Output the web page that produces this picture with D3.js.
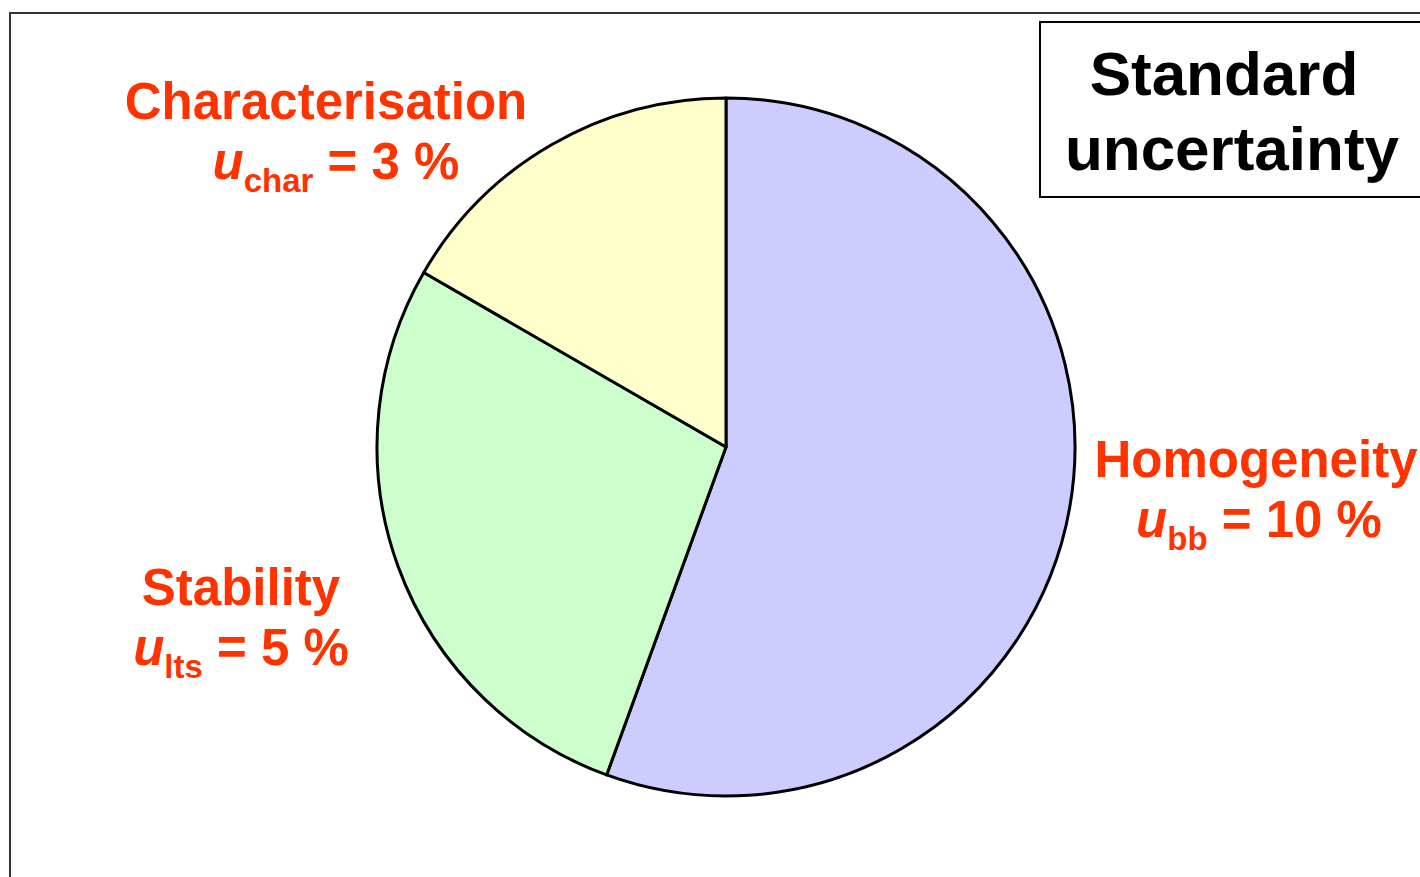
<!DOCTYPE html>
<html>
<head>
<meta charset="utf-8">
<script src="https://cdn.jsdelivr.net/npm/d3@7"></script>
<style>
  html, body { margin: 0; padding: 0; background: #fff; }
  svg { display: block; }
  text { font-family: "Liberation Sans", Arial, sans-serif; font-weight: bold; }
</style>
</head>
<body>
<div id="chart"></div>
<script>

// Uncertainty budget (standard uncertainties, %)
var categories = ["Homogeneity", "Stability", "Characterisation"];
var subscripts = ["bb", "lts", "char"];
var values = [10, 5, 3];
var colours = ["#ccccff", "#ccffcc", "#ffffcc"];

var width = 1420,
	height = 877;

var cx = 726,
	cy = 447,
	radius = 349;

// Where each label block sits (line 1 centre x, line 2 centre x, line 1 baseline)
var labelPos = [
	{ x1: 1256, x2: 1259, y: 477 },
	{ x1: 241, x2: 241, y: 605 },
	{ x1: 326, x2: 336, y: 119 }
];

var labelColour = "#ff3300";

var svg = d3.select("#chart").append("svg")
	.attr("width", width)
	.attr("height", height);

// Outer frame (runs off the right and bottom)
svg.append("rect")
	.attr("x", 10)
	.attr("y", 13)
	.attr("width", width)
	.attr("height", height)
	.attr("fill", "none")
	.attr("stroke", "#333")
	.attr("stroke-width", 2);

// Pie
var pie = d3.pie()
	.sort(null)
	.value(function(d) { return d; });

var arc = d3.arc()
	.innerRadius(0)
	.outerRadius(radius);

var data = values.map(function(v, i) {
	return { value: v, name: categories[i], sub: subscripts[i], colour: colours[i], pos: labelPos[i] };
});

var arcs = pie(values);

var g = svg.append("g")
	.attr("transform", "translate(" + cx + "," + cy + ")");

g.selectAll("path")
	.data(arcs)
	.enter().append("path")
		.attr("d", arc)
		.attr("fill", function(d, i) { return colours[i]; })
		.attr("stroke", "#000")
		.attr("stroke-width", 3)
		.attr("stroke-linejoin", "round");

// Labels
var labels = svg.selectAll("g.label")
	.data(data)
	.enter().append("g")
		.attr("class", "label");

labels.append("text")
	.attr("x", function(d) { return d.pos.x1; })
	.attr("y", function(d) { return d.pos.y; })
	.attr("text-anchor", "middle")
	.attr("fill", labelColour)
	.style("font-size", "51px")
	.text(function(d) { return d.name; });

var line2 = labels.append("text")
	.attr("x", function(d) { return d.pos.x2; })
	.attr("y", function(d) { return d.pos.y + 60; })
	.attr("text-anchor", "middle")
	.attr("fill", labelColour)
	.style("font-size", "51px");

line2.append("tspan")
	.style("font-style", "italic")
	.text("u");

line2.append("tspan")
	.attr("dy", 13)
	.style("font-size", "33px")
	.text(function(d) { return d.sub; });

line2.append("tspan")
	.attr("dy", -13)
	.text(function(d) { return " = " + d.value + " %"; });

// Legend box
svg.append("rect")
	.attr("x", 1040)
	.attr("y", 22)
	.attr("width", 420)
	.attr("height", 175)
	.attr("fill", "#fff")
	.attr("stroke", "#000")
	.attr("stroke-width", 2);

svg.append("text")
	.attr("x", 1224)
	.attr("y", 95)
	.attr("text-anchor", "middle")
	.style("font-size", "62px")
	.text("Standard");

svg.append("text")
	.attr("x", 1232)
	.attr("y", 170)
	.attr("text-anchor", "middle")
	.style("font-size", "62px")
	.text("uncertainty");

</script>
</body>
</html>
